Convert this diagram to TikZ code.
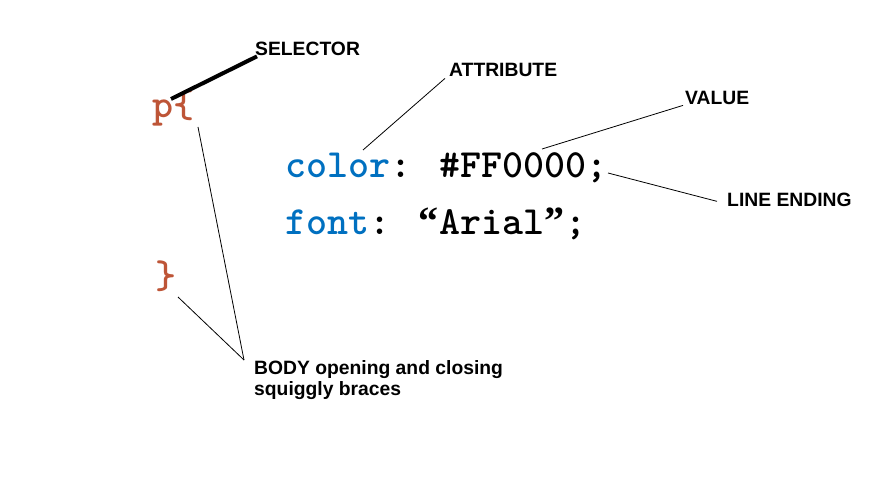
\documentclass[tikz,border=0pt]{standalone}
\usepackage{fontspec}
\setmainfont{Liberation Sans}
\newfontfamily\quotefont{Liberation Serif}
\usetikzlibrary{calc}
\definecolor{ink}{RGB}{0,0,0}
\definecolor{brace}{RGB}{190,85,55}
\definecolor{attr}{RGB}{0,112,192}
\tikzset{
  code/.style={anchor=base west,inner sep=0pt,font=\ttfamily\bfseries\fontsize{40}{44}\selectfont},
  tag/.style={anchor=base west,inner sep=0pt,align=left,font=\bfseries\fontsize{19.3}{21}\selectfont},
  lead/.style={draw=ink,line width=0.8pt},
  heavy/.style={draw=ink,line width=4pt},
}
\newcommand{\cq}[1]{\makebox[0.525em]{\quotefont\bfseries #1}}
\begin{document}
\begin{tikzpicture}[x=1pt,y=-1pt]
  \useasboundingbox (0,0) rectangle (869,494);
  % code
  \node[code,text=brace] (open) at (152,118) {p\{};
  \node[code] (line1) at (285,178) {\textcolor{attr}{color}: \#FF0000;};
  \node[code] (line2) at (285,235) {\textcolor{attr}{font}: \cq{“}Arial\cq{”};};
  \node[code,text=brace] (close) at (155,288) {\}};
  % labels
  \node[tag] (sel) at (255,56) {SELECTOR};
  \node[tag] (att) at (449,77) {ATTRIBUTE};
  \node[tag] (val) at (685,105) {VALUE};
  \node[tag] (end) at (727,207) {LINE ENDING};
  \node[tag] (body) at (254,395) {BODY opening and closing\\squiggly braces};
  % leader points
  \coordinate (p1) at (171,99);
  \coordinate (a1) at (363,150);
  \coordinate (v1) at (542,149);
  \coordinate (e1) at (608,173);
  \coordinate (b1) at (198,127);
  \coordinate (b2) at (178,297);
  \coordinate (bt) at (244,360);
  \draw[heavy] (p1) -- ($(sel.south west)+(2,0)$);
  \draw[lead] (a1) -- ($(att.south west)+(-4,1)$);
  \draw[lead] (v1) -- ($(val.south west)+(-2,0)$);
  \draw[lead] (e1) -- ($(end.west)+(-10,1)$);
  \draw[lead] (b1) -- (bt);
  \draw[lead] (b2) -- (bt);
\end{tikzpicture}
\end{document}
